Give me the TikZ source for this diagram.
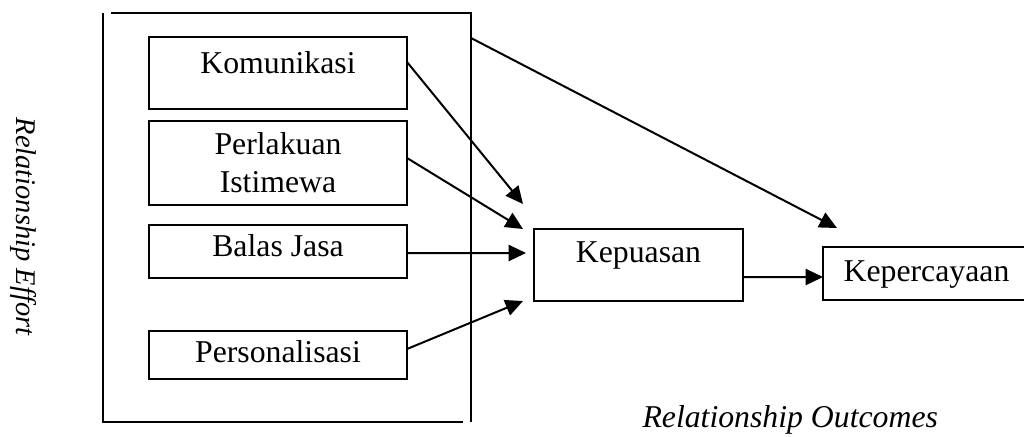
\documentclass[tikz,border=0pt]{standalone}
\usepackage{fontspec}
\setmainfont{Liberation Serif}
\usetikzlibrary{arrows.meta, positioning}

\begin{document}
\begin{tikzpicture}[
    x=0.4pt, y=-0.4pt,
    effortbox/.style={rectangle, draw=black, line width=0.8pt, inner sep=0pt, outer sep=0pt, minimum width=103.2pt, align=center, font=\fontsize{12.7}{15.2}\selectfont},
    outcomebox/.style={rectangle, draw=black, line width=0.8pt, inner sep=0pt, outer sep=0pt, minimum height=28.8pt, font=\fontsize{12.7}{15.2}\selectfont},
    frame/.style={line width=0.8pt},
    arrow/.style={-{Triangle[length=7pt, width=6.5pt]}, line width=0.8pt}
]
\useasboundingbox (0,0) rectangle (1024,436);

% ==== Relationship effort frame ====
\node[rectangle, inner sep=0pt, outer sep=0pt, minimum width=147.2pt, minimum height=163.6pt] (effort) at (287,217.5) {};
\draw[frame] ([xshift=3.2pt]effort.north west) -- (effort.north east) -- (effort.south east);
\draw[frame] (effort.north west) -- (effort.south west) -- ([xshift=-3.2pt]effort.south east);
\coordinate (effortout) at ([yshift=-10pt]effort.north east);

% ==== Effort components ====
\node[effortbox, minimum height=28.8pt, text height=8.4pt, text depth=8pt] (komunikasi) at (278,73) {Komunikasi};
\node[effortbox, minimum height=33.6pt, below=4.8pt of komunikasi] (perlakuan) {Perlakuan\\Istimewa};
\node[effortbox, minimum height=21.2pt, text height=8.4pt, text depth=4.4pt, below=8pt of perlakuan] (balas) {Balas Jasa};
\node[effortbox, minimum height=19.2pt, text height=8.4pt, text depth=2.8pt, below=21.2pt of balas] (personal) {Personalisasi};

% ==== Outcomes ====
\node[outcomebox, minimum width=83.6pt, text height=8.4pt, text depth=10.4pt] (kepuasan) at (638.5,265) {Kepuasan};
\node[outcomebox, minimum width=82.8pt, minimum height=21.2pt, text height=8.4pt, text depth=2pt] (kepercayaan) at (926.5,273.5) {Kepercayaan};

% ==== Arrows ====
\draw[arrow] ([yshift=4.4pt]komunikasi.east) -- ([shift={(-11,-25)}]kepuasan.north west);
\draw[arrow] ([yshift=2pt]perlakuan.east) -- ([xshift=-4.4pt]kepuasan.north west);
\draw[arrow] ([yshift=-0.6pt]balas.east) -- ([shift={(-8,-12)}]kepuasan.west);
\draw[arrow] ([yshift=2.4pt]personal.east) -- ([xshift=-4.4pt]kepuasan.south west);
\draw[arrow] ([yshift=-4.8pt]kepuasan.east) -- ([yshift=-1.4pt]kepercayaan.west);
\draw[arrow] (effortout) -- ([shift={(14,-19)}]kepercayaan.north west);

% ==== Labels ====
\node[rotate=-90, font=\fontsize{11.4}{14}\selectfont\itshape] (effortlabel) at (23,226.5) {Relationship Effort};
\node[anchor=base west, inner sep=0pt, font=\fontsize{12.7}{15}\selectfont\itshape] (outcomelabel) at (642,427) {Relationship Outcomes};

\end{tikzpicture}
\end{document}
